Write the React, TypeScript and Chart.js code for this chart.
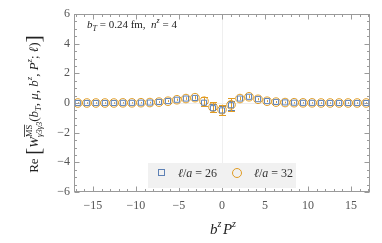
import React, { useEffect, useRef } from "react";
import { Chart, registerables } from "chart.js";

Chart.register(...registerables);

// b^z P^z positions (z = -16..16 in lattice units)
const bzPz = [
  -16.76, -15.71, -14.66, -13.61, -12.57, -11.52, -10.47, -9.42, -8.38, -7.33, -6.28,
  -5.24, -4.19, -3.14, -2.09, -1.05, 0, 1.05, 2.09, 3.14, 4.19, 5.24, 6.28, 7.33, 8.38,
  9.42, 10.47, 11.52, 12.57, 13.61, 14.66, 15.71, 16.76,
];
// ℓ/a = 26
const re26 = [
  0.0, 0.0, 0.0, 0.0, 0.0, 0.01, 0.01, 0.02, 0.03, 0.07, 0.13,
  0.22, 0.3, 0.34, 0.02, -0.35, -0.5, -0.15, 0.3, 0.42, 0.26, 0.13, 0.07, 0.04, 0.02,
  0.01, 0.01, 0.0, 0.0, 0.0, 0.0, 0.0, 0.0,
];
const err26 = [
  0.03, 0.03, 0.03, 0.03, 0.03, 0.03, 0.03, 0.03, 0.04, 0.04, 0.05,
  0.06, 0.07, 0.09, 0.2, 0.25, 0.3, 0.3, 0.1, 0.08, 0.06, 0.05, 0.05, 0.04, 0.04,
  0.03, 0.03, 0.03, 0.03, 0.03, 0.03, 0.03, 0.03,
];
// ℓ/a = 32
const re32 = [
  0.0, 0.0, 0.0, 0.0, 0.0, 0.01, 0.01, 0.02, 0.03, 0.06, 0.12,
  0.22, 0.3, 0.36, 0.12, -0.28, -0.45, -0.12, 0.3, 0.42, 0.25, 0.12, 0.06, 0.03, 0.02,
  0.01, 0.01, 0.0, 0.0, 0.0, 0.0, 0.0, 0.0,
];
const err32 = [
  0.04, 0.04, 0.04, 0.04, 0.04, 0.04, 0.04, 0.04, 0.05, 0.05, 0.06,
  0.07, 0.08, 0.1, 0.3, 0.33, 0.33, 0.45, 0.12, 0.1, 0.07, 0.06, 0.06, 0.05, 0.05,
  0.04, 0.04, 0.04, 0.04, 0.04, 0.04, 0.04, 0.04,
];
const seriesLabels = ["26", "32"];
const xTicks = [-15, -10, -5, 0, 5, 10, 15];
const yTicks = [-6, -4, -2, 0, 2, 4, 6];
const xMinorTicks = [-17, -16, -14, -13, -12, -11, -9, -8, -7, -6, -4, -3, -2, -1, 1, 2, 3, 4, 6, 7, 8, 9, 11, 12, 13, 14, 16, 17];
const yMinorTicks = [-5.5, -5, -4.5, -3.5, -3, -2.5, -1.5, -1, -0.5, 0.5, 1, 1.5, 2.5, 3, 3.5, 4.5, 5, 5.5];

const BLUE = "#5E81B5";
const ORANGE = "#E19C24";
const FRAME = "#9a9a9a";
const FAM = '"Liberation Serif", "DejaVu Serif", serif';

type Seg = {
  t?: string;
  f?: string;
  dy?: number;
  over?: boolean;
  stack?: { sup: Seg; sub: Seg };
};

function segW(ctx: CanvasRenderingContext2D, s: Seg): number {
  if (s.stack) return Math.max(segW(ctx, s.stack.sup), segW(ctx, s.stack.sub));
  ctx.font = s.f as string;
  return ctx.measureText(s.t as string).width;
}
function totalW(ctx: CanvasRenderingContext2D, segs: Seg[]) {
  return segs.reduce((a, s) => a + segW(ctx, s), 0);
}
function drawSegs(ctx: CanvasRenderingContext2D, segs: Seg[], x0: number, y0: number) {
  let x = x0;
  for (const s of segs) {
    if (s.stack) {
      const parts = [s.stack.sup, s.stack.sub];
      for (const p of parts) {
        ctx.font = p.f as string;
        ctx.fillText(p.t as string, x, y0 + (p.dy || 0));
        if (p.over) {
          const w = ctx.measureText(p.t as string).width;
          ctx.save();
          ctx.lineWidth = 0.8;
          ctx.beginPath();
          ctx.moveTo(x, y0 + (p.dy || 0) - 7.5);
          ctx.lineTo(x + w, y0 + (p.dy || 0) - 7.5);
          ctx.stroke();
          ctx.restore();
        }
      }
      x += segW(ctx, s);
    } else {
      ctx.font = s.f as string;
      ctx.fillText(s.t as string, x, y0 + (s.dy || 0));
      x += ctx.measureText(s.t as string).width;
    }
  }
}

const R13 = `13px ${FAM}`;
const I13 = `italic 13px ${FAM}`;
const sI9 = `italic 8.5px ${FAM}`;
const sR9 = `8.5px ${FAM}`;
const BR = `22px ${FAM}`;

const yTitle: Seg[] = [
  { t: "Re", f: R13 },
  { t: " ", f: R13 },
  { t: "[", f: BR, dy: 2 },
  { t: "W", f: I13 },
  { stack: { sup: { t: "MS", f: sR9, dy: -6, over: true }, sub: { t: "γ3γ3", f: sI9, dy: 4 } } },
  { t: "(", f: R13 },
  { t: "b", f: I13 },
  { t: "T", f: sI9, dy: 3 },
  { t: ", ", f: R13 },
  { t: "μ", f: I13 },
  { t: ", ", f: R13 },
  { t: "b", f: I13 },
  { t: "z", f: sI9, dy: -6 },
  { t: ", ", f: R13 },
  { t: "P", f: I13 },
  { t: "z", f: sI9, dy: -6 },
  { t: "; ", f: R13 },
  { t: "ℓ", f: I13 },
  { t: ")", f: R13 },
  { t: "]", f: BR, dy: 2 },
];
const xTitle: Seg[] = [
  { t: "b", f: `italic 15px ${FAM}` },
  { t: "z", f: `italic 10px ${FAM}`, dy: -7 },
  { t: " ", f: `6px ${FAM}` },
  { t: "P", f: `italic 15px ${FAM}` },
  { t: "z", f: `italic 10px ${FAM}`, dy: -7 },
];
const note: Seg[] = [
  { t: "b", f: `italic 11px ${FAM}` },
  { t: "T", f: `italic 8px ${FAM}`, dy: 3 },
  { t: " = 0.24 fm,  ", f: `11px ${FAM}` },
  { t: "n", f: `italic 11px ${FAM}` },
  { t: "z", f: `italic 8px ${FAM}`, dy: -5 },
  { t: " = 4", f: `11px ${FAM}` },
];
function legendText(v: string): Seg[] {
  return [
    { t: "ℓ", f: `italic 12px ${FAM}` },
    { t: "/", f: `12px ${FAM}` },
    { t: "a", f: `italic 12px ${FAM}` },
    { t: " = " + v, f: `12px ${FAM}` },
  ];
}

const decor = {
  id: "decor",
  beforeDatasetsDraw(chart: any) {
    const { ctx, chartArea: a, scales } = chart;
    const x = scales.x, y = scales.y;
    ctx.save();
    // zero lines
    ctx.strokeStyle = "#efefef";
    ctx.lineWidth = 1;
    const x0 = Math.round(x.getPixelForValue(0)) + 0.5;
    const y0 = Math.round(y.getPixelForValue(0)) + 0.5;
    ctx.beginPath();
    ctx.moveTo(x0, a.top);
    ctx.lineTo(x0, a.bottom);
    ctx.moveTo(a.left, y0);
    ctx.lineTo(a.right, y0);
    ctx.stroke();
    // error bars
    chart.data.datasets.forEach((ds: any) => {
      ctx.strokeStyle = ds.borderColor;
      ctx.lineWidth = 1;
      ds.data.forEach((p: any) => {
        const px = Math.round(x.getPixelForValue(p.x)) + 0.5;
        const t = y.getPixelForValue(p.y + p.e);
        const b = y.getPixelForValue(p.y - p.e);
        ctx.beginPath();
        ctx.moveTo(px, t);
        ctx.lineTo(px, b);
        if (b - t > 6) {
          ctx.moveTo(px - 3.5, Math.round(t) + 0.5);
          ctx.lineTo(px + 3.5, Math.round(t) + 0.5);
          ctx.moveTo(px - 3.5, Math.round(b) + 0.5);
          ctx.lineTo(px + 3.5, Math.round(b) + 0.5);
        }
        ctx.stroke();
      });
    });
    ctx.restore();
  },
  afterDraw(chart: any) {
    const { ctx, chartArea: a, scales } = chart;
    const x = scales.x, y = scales.y;
    ctx.save();
    // frame
    ctx.strokeStyle = FRAME;
    ctx.lineWidth = 1;
    const L = Math.round(a.left) + 0.5, Rr = Math.round(a.right) - 0.5;
    const T = Math.round(a.top) + 0.5, B = Math.round(a.bottom) - 0.5;
    ctx.strokeRect(L, T, Rr - L, B - T);
    ctx.beginPath();
    const tickX = (v: number, len: number) => {
      const px = Math.round(x.getPixelForValue(v)) + 0.5;
      ctx.moveTo(px, B);
      ctx.lineTo(px, B - len);
      ctx.moveTo(px, T);
      ctx.lineTo(px, T + len);
    };
    const tickY = (v: number, len: number) => {
      const py = Math.round(y.getPixelForValue(v)) + 0.5;
      ctx.moveTo(L, py);
      ctx.lineTo(L + len, py);
      ctx.moveTo(Rr, py);
      ctx.lineTo(Rr - len, py);
    };
    xTicks.forEach((v) => tickX(v, 5));
    xMinorTicks.forEach((v) => tickX(v, 2.5));
    yTicks.forEach((v) => tickY(v, 5));
    yMinorTicks.forEach((v) => tickY(v, 2.5));
    ctx.stroke();

    // legend
    const lx = 148, ly = 163, lw = 148, lh = 25;
    ctx.fillStyle = "#f1f1f1";
    ctx.fillRect(lx, ly, lw, lh);
    ctx.lineWidth = 1;
    ctx.strokeStyle = BLUE;
    ctx.strokeRect(158.5, 169.5, 6, 6);
    ctx.strokeStyle = ORANGE;
    ctx.beginPath();
    ctx.arc(237, 173, 4.5, 0, Math.PI * 2);
    ctx.stroke();
    ctx.fillStyle = "#333";
    ctx.textBaseline = "alphabetic";
    drawSegs(ctx, legendText(seriesLabels[0]), 178, 177);
    drawSegs(ctx, legendText(seriesLabels[1]), 254, 177);

    // annotation
    ctx.fillStyle = "#222";
    drawSegs(ctx, note, 87, 28);

    // x title
    ctx.fillStyle = "#222";
    const wx = totalW(ctx, xTitle);
    drawSegs(ctx, xTitle, (a.left + a.right) / 2 - wx / 2 + 1, 234);

    // y title
    const wy = totalW(ctx, yTitle);
    ctx.translate(38, 104);
    ctx.rotate(-Math.PI / 2);
    ctx.strokeStyle = "#222";
    drawSegs(ctx, yTitle, -wy / 2, 0);
    ctx.restore();
  },
};

function fmt(v: number) {
  return v < 0 ? "\u2212" + Math.abs(v) : String(v);
}

export default function App() {
  const ref = useRef<HTMLCanvasElement | null>(null);
  useEffect(() => {
    if (!ref.current) return;
    const mk = (vals: number[], errs: number[]) =>
      bzPz.map((xv, i) => ({ x: xv, y: vals[i], e: errs[i] }));
    const chart = new Chart(ref.current, {
      type: "scatter",
      data: {
        datasets: [
          {
            label: "ℓ/a = " + seriesLabels[0],
            data: mk(re26, err26),
            pointStyle: "rect",
            pointRadius: 3.6,
            borderColor: BLUE,
            backgroundColor: "rgba(0,0,0,0)",
            borderWidth: 1,
          },
          {
            label: "ℓ/a = " + seriesLabels[1],
            data: mk(re32, err32),
            pointStyle: "circle",
            pointRadius: 4.3,
            borderColor: ORANGE,
            backgroundColor: "rgba(0,0,0,0)",
            borderWidth: 1,
          },
        ],
      },
      options: {
        responsive: false,
        animation: false,
        events: [],
        layout: { padding: { top: 14, right: 12, left: 0, bottom: 0 } },
        plugins: { legend: { display: false }, tooltip: { enabled: false } },
        scales: {
          x: {
            type: "linear",
            min: -17.2,
            max: 17.2,
            grid: { display: false, drawTicks: false },
            border: { display: false },
            afterBuildTicks: (s: any) => {
              s.ticks = xTicks.map((v) => ({ value: v }));
            },
            afterFit: (s: any) => {
              s.height = 51;
            },
            ticks: {
              padding: 7,
              maxRotation: 0,
              color: "#555",
              font: { family: FAM, size: 12 },
              callback: (v: any) => fmt(Number(v)),
            },
          },
          y: {
            type: "linear",
            min: -6,
            max: 6,
            grid: { display: false, drawTicks: false },
            border: { display: false },
            afterBuildTicks: (s: any) => {
              s.ticks = yTicks.map((v) => ({ value: v }));
            },
            afterFit: (s: any) => {
              s.width = 74;
            },
            ticks: {
              padding: 4,
              color: "#555",
              font: { family: FAM, size: 12 },
              callback: (v: any) => fmt(Number(v)),
            },
          },
        },
      },
      plugins: [decor],
    });
    return () => chart.destroy();
  }, []);
  return (
    <div style={{ position: "fixed", left: 0, top: 0, width: 382, height: 243, background: "#fff" }}>
      <canvas ref={ref} width={382} height={243} style={{ display: "block" }} />
    </div>
  );
}
